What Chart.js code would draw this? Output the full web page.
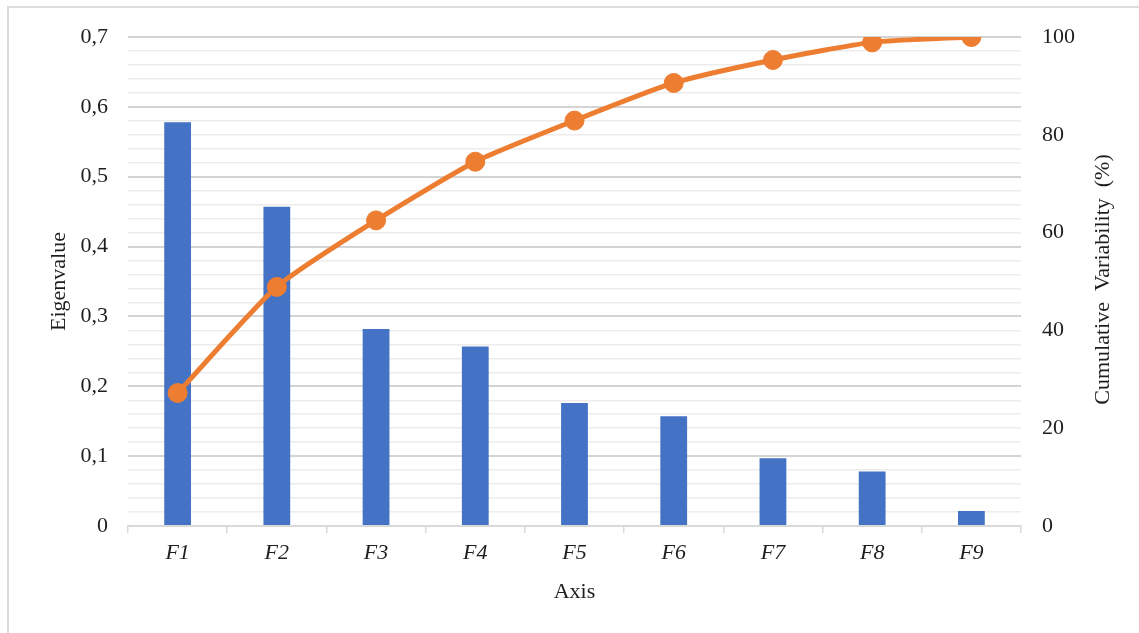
<!DOCTYPE html>
<html>
<head>
<meta charset="utf-8">
<script src="https://cdn.jsdelivr.net/npm/chart.js@4/dist/chart.umd.min.js"></script>
<style>
  html, body { margin: 0; padding: 0; background: #fff; }
  #wrap { position: relative; width: 1139px; height: 633px; }
  #frame { position: absolute; left: 7px; top: 6px; width: 1140px; height: 640px;
           border-left: 2px solid #dcdcdc; border-top: 2px solid #dcdcdc; pointer-events: none; }
  canvas { position: absolute; left: 0; top: 0; }
</style>
</head>
<body>
<div id="wrap">
  <canvas id="c" width="1139" height="633"></canvas>
  <div id="frame"></div>
</div>
<script>
// Principal axes and their eigenvalues
const categories = ['F1', 'F2', 'F3', 'F4', 'F5', 'F6', 'F7', 'F8', 'F9'];
const eigenvalues = [0.578, 0.457, 0.282, 0.257, 0.176, 0.157, 0.097, 0.078, 0.0215];
const cumulativeVariability = [27.2, 48.9, 62.5, 74.5, 82.9, 90.6, 95.3, 98.9, 100];
const rightTicks = [0, 20, 40, 60, 80, 100];
const rightTitle = 'Cumulative  Variability  (%)';

const serif = "'Liberation Serif', 'Times New Roman', serif";
const textColor = '#1e1e1e';
const fontSize = 22;

// Secondary axis title, written bottom-to-top beside the right scale
const rightTitlePlugin = {
  id: 'rightTitle',
  afterDraw(chart) {
    const s = chart.scales.yR;
    const ctx = chart.ctx;
    ctx.save();
    ctx.translate(1103, (s.top + s.bottom) / 2 - 2);
    ctx.rotate(-Math.PI / 2);
    ctx.font = fontSize + 'px ' + serif;
    ctx.fillStyle = textColor;
    ctx.textAlign = 'center';
    ctx.textBaseline = 'middle';
    ctx.fillText(rightTitle, 0, 0);
    ctx.restore();
  }
};

new Chart(document.getElementById('c'), {
  data: {
    labels: categories,
    datasets: [
      {
        type: 'line',
        label: 'Cumulative Variability (%)',
        data: cumulativeVariability,
        yAxisID: 'yR',
        borderColor: '#ED7D31',
        backgroundColor: '#ED7D31',
        borderWidth: 5,
        pointRadius: 9.5,
        pointBorderWidth: 1,
        pointBackgroundColor: '#ED7D31',
        tension: 0.2,
        order: 0
      },
      {
        type: 'bar',
        label: 'Eigenvalue',
        data: eigenvalues,
        yAxisID: 'yL',
        backgroundColor: '#4472C4',
        barPercentage: 0.27,
        categoryPercentage: 1,
        order: 1
      }
    ]
  },
  plugins: [rightTitlePlugin],
  options: {
    responsive: false,
    animation: false,
    layout: { padding: { left: 0, right: 0, top: 37, bottom: 0 } },
    plugins: { legend: { display: false }, tooltip: { enabled: false } },
    scales: {
      x: {
        offset: true,
        grid: { offset: true, drawOnChartArea: false, drawTicks: true, tickLength: 7, color: '#d9d9d9', lineWidth: 1.5 },
        border: { color: '#d9d9d9', width: 2 },
        ticks: { color: textColor, padding: 7, font: { family: serif, size: fontSize, style: 'italic' } },
        title: { display: true, text: 'Axis', color: textColor, padding: { top: 0, bottom: 28 }, font: { family: serif, size: fontSize } },
        afterFit: s => { s.height = 633 - 526; }
      },
      yL: {
        position: 'left',
        min: 0, max: 0.7,
        ticks: {
          stepSize: 0.02,
          autoSkip: false,
          maxTicksLimit: 100,
          padding: 20,
          color: textColor,
          font: { family: serif, size: fontSize },
          callback: (v, i) => {
            if (i % 5 !== 0) return '';
            const r = Math.round(v * 10) / 10;
            return r === 0 ? '0' : r.toFixed(1).replace('.', ',');
          }
        },
        grid: {
          drawTicks: false,
          color: ctx => (ctx.index % 5 === 0 ? '#d4d4d4' : '#ececec'),
          lineWidth: ctx => (ctx.index % 5 === 0 ? 2 : 1.5)
        },
        border: { display: false },
        title: { display: true, text: 'Eigenvalue', color: textColor, padding: { top: 46, bottom: 0 }, font: { family: serif, size: fontSize } },
        afterFit: s => { s.width = 128; }
      },
      yR: {
        position: 'right',
        min: 0, max: 100,
        afterBuildTicks: s => { s.ticks = rightTicks.map(v => ({ value: v })); },
        ticks: { padding: 21, autoSkip: false, color: textColor, font: { family: serif, size: fontSize } },
        grid: { drawOnChartArea: false, drawTicks: false },
        border: { display: false },
        afterFit: s => { s.width = 1139 - 1021; }
      }
    }
  }
});
</script>
</body>
</html>
